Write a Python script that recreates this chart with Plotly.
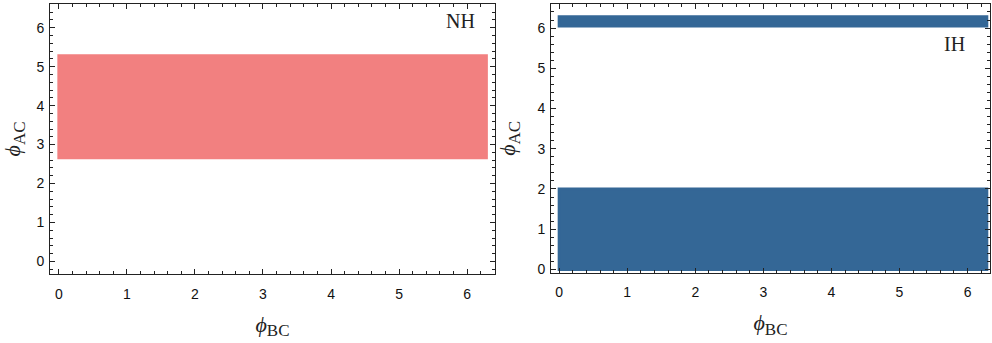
import math
import plotly.graph_objects as go

# Allowed phase region for each hierarchy (radians)
phi_bc_range = [0.0, 2 * math.pi]
nh_phi_ac = [2.66, 5.28]
ih_phi_ac_low = [0.0, 2.0]
ih_phi_ac_high = [6.05, 6.28]

nh_color = "rgb(242,128,128)"
ih_color = "rgb(52,103,150)"

x_ticks = [0, 1, 2, 3, 4, 5, 6]
y_ticks = [0, 1, 2, 3, 4, 5, 6]


def band(xr, yr):
    # closed outline starting mid-edge so every corner is a proper join
    xm = (xr[0] + xr[1]) / 2
    xs = [xm, xr[1], xr[1], xr[0], xr[0], xm]
    ys = [yr[0], yr[0], yr[1], yr[1], yr[0], yr[0]]
    return xs, ys


fig = go.Figure()

for (yr, color, xa, ya) in [
    (nh_phi_ac, nh_color, "x", "y"),
    (ih_phi_ac_low, ih_color, "x2", "y2"),
    (ih_phi_ac_high, ih_color, "x2", "y2"),
]:
    xs, ys = band(phi_bc_range, yr)
    fig.add_trace(go.Scatter(
        x=xs, y=ys, mode="lines", fill="toself", fillcolor=color,
        line=dict(color=color, width=3), xaxis=xa, yaxis=ya,
        showlegend=False, hoverinfo="skip",
    ))

frame = dict(
    showline=True, linecolor="#222", linewidth=1, mirror="allticks",
    ticks="inside", ticklen=5, tickwidth=1, tickcolor="#222",
    showgrid=False, zeroline=False,
    tickfont=dict(family="Liberation Sans, Arial", size=14, color="#111"),
    minor=dict(ticks="inside", ticklen=3, tickwidth=1, tickcolor="#222", dtick=0.2),
)

sub_font = "font-size:17px"
xtitle = dict(text=f"<i>ϕ</i><sub><span style='{sub_font}'>BC</span></sub>",
              font=dict(family="Liberation Serif, Times New Roman", size=22, color="#222"))
ytitle = dict(text=f"<i>ϕ</i><sub><span style='{sub_font}'>AC</span></sub>",
              font=dict(family="Liberation Serif, Times New Roman", size=22, color="#222"))

W, H = 992, 343
fig.update_layout(
    width=W, height=H, margin=dict(l=0, r=0, t=0, b=0),
    plot_bgcolor="white", paper_bgcolor="white",
    xaxis=dict(frame, domain=[50 / W, 495 / W], range=[-0.13, 6.41],
               tickvals=x_ticks, ticklabelstandoff=7, title=xtitle, anchor="y"),
    yaxis=dict(frame, domain=[(H - 278) / H, (H - 4) / H], range=[-0.32, 6.61],
               tickvals=y_ticks, ticklabelstandoff=2, title=ytitle, anchor="x"),
    xaxis2=dict(frame, domain=[551 / W, 990 / W], range=[-0.12, 6.33],
                tickvals=x_ticks, ticklabelstandoff=7, title=xtitle, anchor="y2"),
    yaxis2=dict(frame, domain=[(H - 276.7) / H, (H - 4) / H], range=[-0.08, 6.6],
                tickvals=y_ticks, ticklabelstandoff=2, title=ytitle, anchor="x2"),
    annotations=[
        dict(text="NH", x=460 / W, y=1 - 21 / H, xref="paper", yref="paper",
             showarrow=False, xanchor="center", yanchor="middle",
             font=dict(family="Liberation Serif, Times New Roman", size=20, color="#222")),
        dict(text="IH", x=954 / W, y=1 - 45 / H, xref="paper", yref="paper",
             showarrow=False, xanchor="center", yanchor="middle",
             font=dict(family="Liberation Serif, Times New Roman", size=20, color="#222")),
    ],
)

fig.write_html("out.html")
